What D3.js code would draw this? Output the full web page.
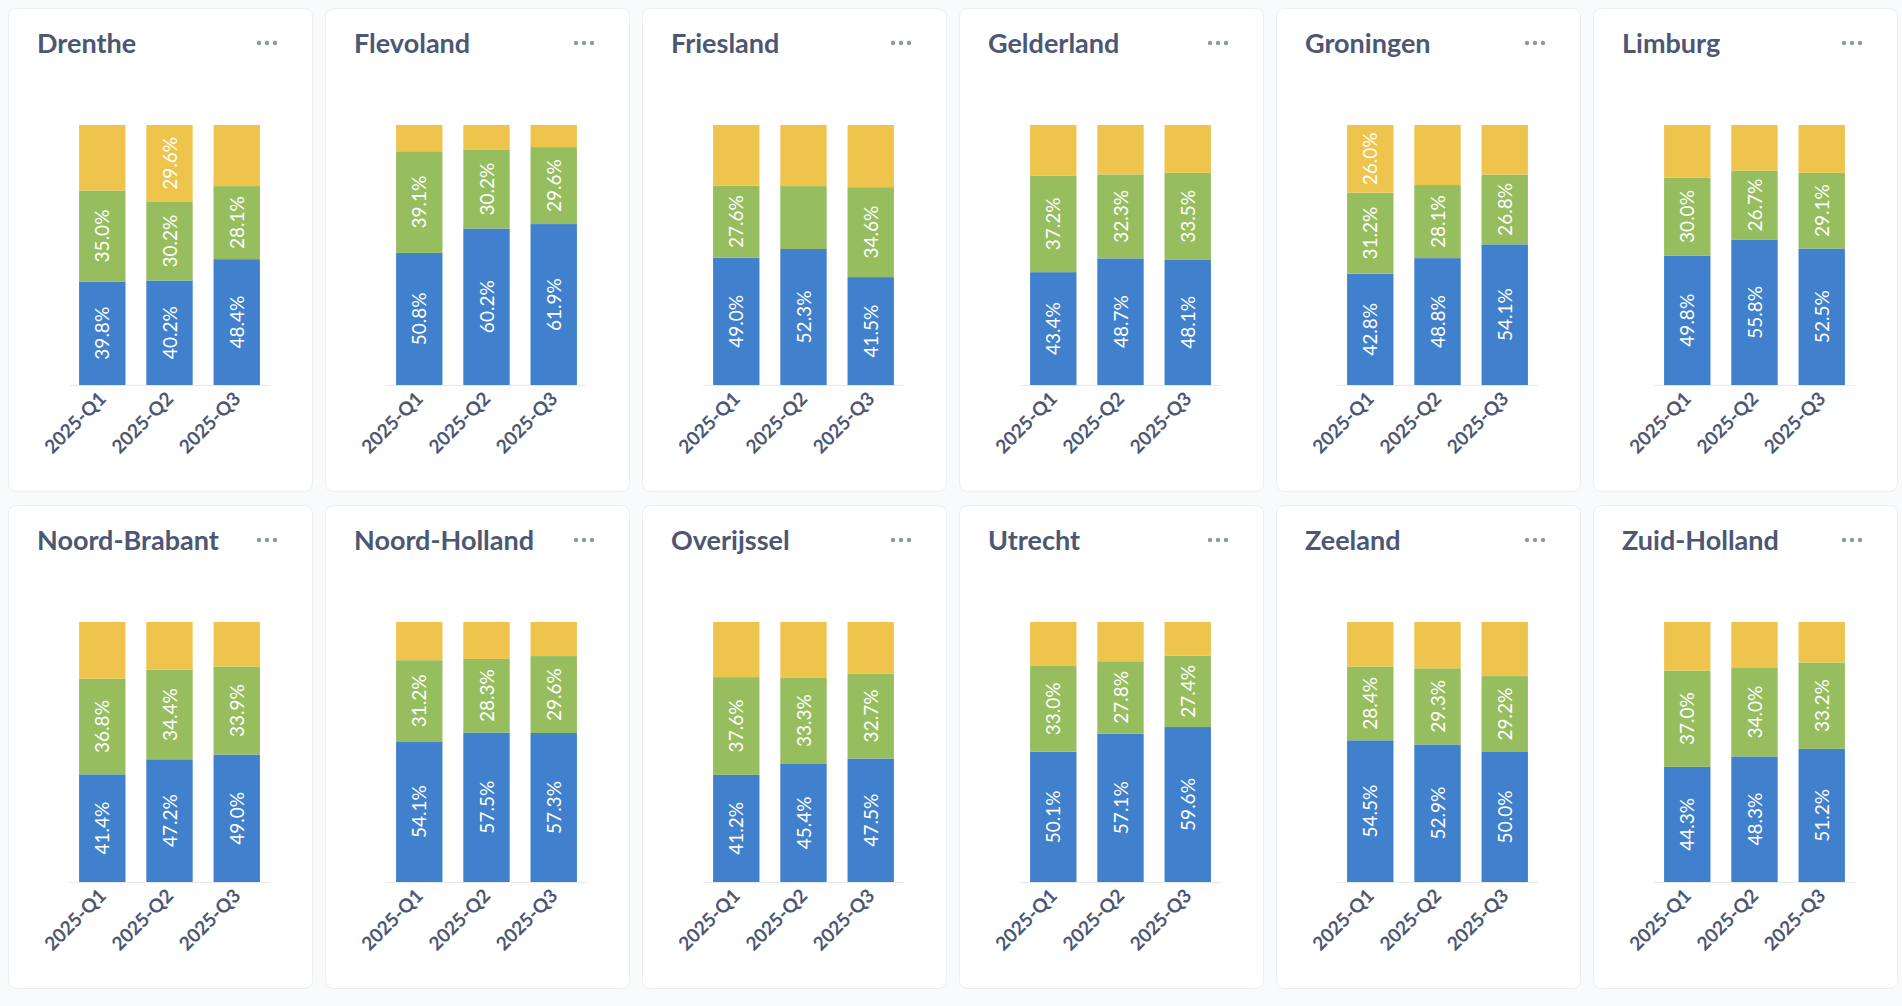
<!DOCTYPE html>
<html><head><meta charset="utf-8">
<script src="https://cdn.jsdelivr.net/npm/d3@7"></script>
<style>
body{margin:0;background:#f9fafb;font-family:Lato,"Noto Sans",sans-serif;}
</style></head>
<body><svg id="chart" width="1902" height="1006"></svg>
<script>
var provinces = ["Drenthe","Flevoland","Friesland","Gelderland","Groningen","Limburg",
  "Noord-Brabant","Noord-Holland","Overijssel","Utrecht","Zeeland","Zuid-Holland"];
var quarters = ["2025-Q1","2025-Q2","2025-Q3"];
var blueVals = [[39.8,40.2,48.4],[50.8,60.2,61.9],[49.0,52.3,41.5],[43.4,48.7,48.1],[42.8,48.8,54.1],[49.8,55.8,52.5],
  [41.4,47.2,49.0],[54.1,57.5,57.3],[41.2,45.4,47.5],[50.1,57.1,59.6],[54.5,52.9,50.0],[44.3,48.3,51.2]];
var greenVals = [[35.0,30.2,28.1],[39.1,30.2,29.6],[27.6,24.2,34.6],[37.2,32.3,33.5],[31.2,28.1,26.8],[30.0,26.7,29.1],
  [36.8,34.4,33.9],[31.2,28.3,29.6],[37.6,33.3,32.7],[33.0,27.8,27.4],[28.4,29.3,29.2],[37.0,34.0,33.2]];
var yellowVals = [[25.2,29.6,23.5],[10.1,9.6,8.5],[23.4,23.5,23.9],[19.4,19.0,18.4],[26.0,23.1,19.1],[20.2,17.5,18.4],
  [21.8,18.4,17.1],[14.7,14.2,13.1],[21.2,21.3,19.8],[16.9,15.1,13.0],[17.1,17.8,20.8],[18.7,17.7,15.6]];
var colors = ["#4180cd","#96be5f","#efc44d"];

var svg = d3.select("#chart");
var cardW = 304, cardH = 483, pitchX = 317, pitchY = 497;
var x = d3.scaleBand().domain(quarters).range([61, 262]).paddingInner(0.31).paddingOuter(0.15);
var y = d3.scaleLinear().domain([0, 100]).range([377, 117]);

provinces.forEach(function (name, i) {
  var g = svg.append("g").attr("transform", "translate(" + (8 + (i % 6) * pitchX) + "," + (8 + Math.floor(i / 6) * pitchY) + ")");
  g.append("rect").attr("x", 0.5).attr("y", 0.5).attr("width", cardW).attr("height", cardH)
    .attr("rx", 8).attr("fill", "#fff").attr("stroke", "#eceef1");
  g.append("text").attr("x", 29).attr("y", 45).attr("fill", "#4c5773")
    .style("font-size", "27px").style("font-weight", 700).text(name);
  [0, 1, 2].forEach(function (k) {
    g.append("circle").attr("cx", 251 + k * 8).attr("cy", 35).attr("r", 2.2).attr("fill", "#8e97a6");
  });
  var rows = quarters.map(function (q, j) {
    return {q: q, a: blueVals[i][j], b: greenVals[i][j], c: yellowVals[i][j]};
  });
  var series = d3.stack().keys(["a", "b", "c"])(rows);
  g.append("line").attr("x1", 61).attr("x2", 262).attr("y1", 377.5).attr("y2", 377.5).attr("stroke", "#e6e8eb");
  series.forEach(function (s, si) {
    s.forEach(function (d) {
      g.append("rect").attr("x", x(d.data.q)).attr("width", x.bandwidth())
        .attr("y", y(d[1])).attr("height", y(d[0]) - y(d[1])).attr("fill", colors[si]);
      var v = d[1] - d[0];
      if (v >= 26 || si === 0) {
        var cx = x(d.data.q) + x.bandwidth() / 2, cy = (y(d[0]) + y(d[1])) / 2;
        g.append("text").attr("transform", "translate(" + (cx + 7) + "," + cy + ") rotate(-90)")
          .attr("text-anchor", "middle").attr("fill", "#fff").style("font-size", "19px")
          .text(d.data[s.key].toFixed(1) + "%");
      }
    });
  });
  quarters.forEach(function (q) {
    g.append("text").attr("transform", "translate(" + (x(q) + x.bandwidth() / 2 + 5) + ",392) rotate(-45)")
      .attr("text-anchor", "end").attr("fill", "#4c5773").style("font-size", "19px").style("font-weight", 700)
      .text(q);
  });
});
</script></body></html>
